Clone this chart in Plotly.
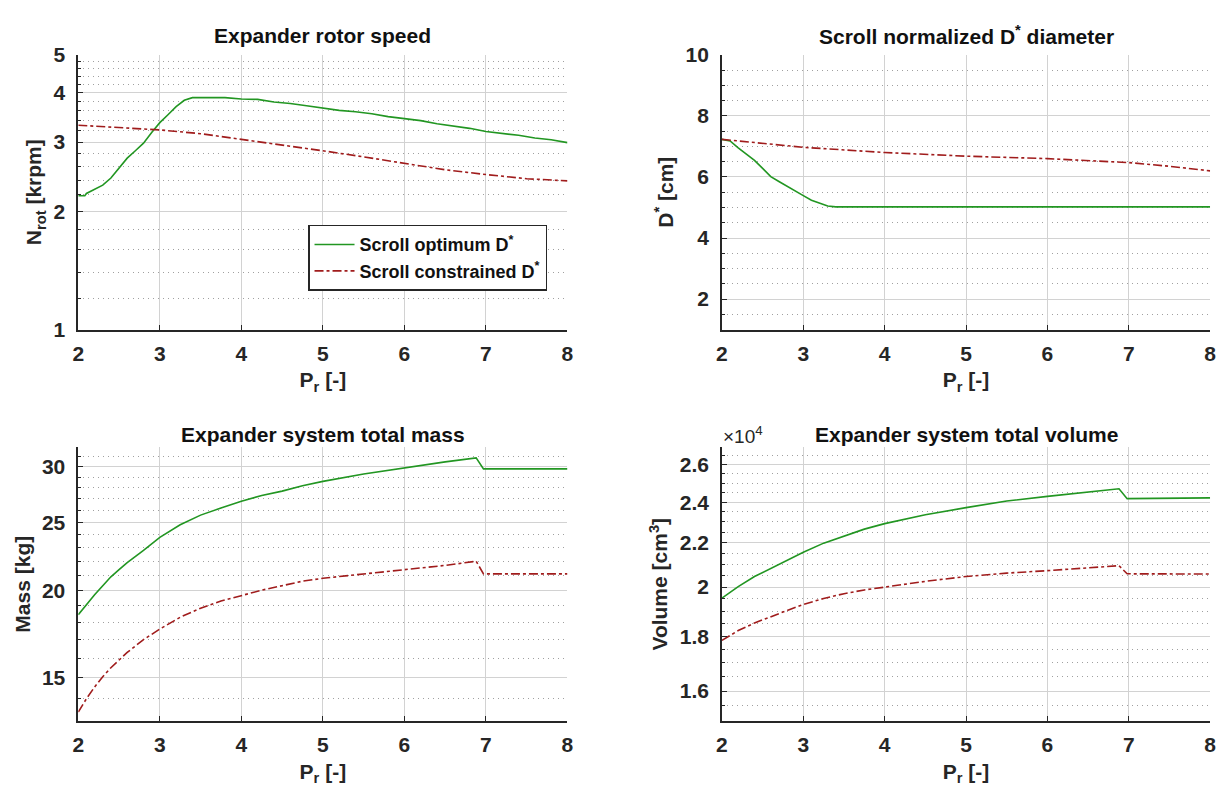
import plotly.graph_objects as go
import numpy as np

# ---------------- data ----------------
# Top-left: Expander rotor speed [krpm]
n_opt_x = [2.0, 2.08, 2.1, 2.2, 2.3, 2.4, 2.5, 2.6, 2.7, 2.8, 2.9, 3.0, 3.1, 3.2, 3.3, 3.4, 3.6, 3.8,
           4.0, 4.2, 4.4, 4.6, 4.8, 5.0, 5.2, 5.4, 5.6, 5.8, 6.0, 6.2, 6.4, 6.6, 6.8, 7.0, 7.2, 7.4,
           7.6, 7.8, 8.0]
n_opt_y = [2.19, 2.19, 2.22, 2.28, 2.33, 2.43, 2.58, 2.73, 2.85, 2.98, 3.17, 3.36, 3.52, 3.69, 3.83,
           3.89, 3.89, 3.89, 3.86, 3.85, 3.79, 3.76, 3.71, 3.66, 3.61, 3.58, 3.54, 3.48, 3.44, 3.40,
           3.34, 3.30, 3.25, 3.19, 3.16, 3.12, 3.07, 3.04, 2.99]
n_con_x = [2.0, 2.5, 3.0, 3.5, 4.0, 4.5, 5.0, 5.5, 6.0, 6.5, 7.0, 7.5, 8.0]
n_con_y = [3.31, 3.27, 3.22, 3.15, 3.05, 2.95, 2.85, 2.75, 2.65, 2.55, 2.48, 2.42, 2.39]

# Top-right: Scroll normalized D* diameter [cm]
d_opt_x = [2.0, 2.1, 2.2, 2.3, 2.4, 2.5, 2.6, 2.7, 2.8, 2.9, 3.0, 3.1, 3.2, 3.3, 3.4, 4.0, 5.0, 6.0, 7.0, 8.0]
d_opt_y = [7.23, 7.18, 6.95, 6.76, 6.54, 6.28, 6.01, 5.85, 5.69, 5.53, 5.39, 5.24, 5.14, 5.05, 5.02,
           5.02, 5.02, 5.02, 5.02, 5.02]
d_con_x = [2.0, 3.0, 4.0, 5.0, 6.0, 7.0, 7.5, 8.0]
d_con_y = [7.23, 6.97, 6.80, 6.68, 6.60, 6.47, 6.35, 6.20]

# Bottom-left: Expander system total mass [kg]
m_opt_x = [2.0, 2.1, 2.2, 2.3, 2.4, 2.5, 2.6, 2.8, 3.0, 3.25, 3.5, 3.75, 4.0, 4.25, 4.5, 4.75, 5.0,
           5.5, 6.0, 6.5, 6.88, 6.97, 7.5, 8.0]
m_opt_y = [18.45, 19.1, 19.7, 20.3, 20.9, 21.4, 21.9, 22.8, 23.8, 24.8, 25.6, 26.2, 26.8, 27.3, 27.7,
           28.2, 28.6, 29.3, 29.9, 30.5, 30.9, 29.8, 29.8, 29.8]
m_con_x = [2.0, 2.1, 2.2, 2.3, 2.4, 2.5, 2.6, 2.8, 3.0, 3.25, 3.5, 3.75, 4.0, 4.25, 4.5, 4.75, 5.0,
           5.5, 6.0, 6.5, 6.88, 6.97, 7.5, 8.0]
m_con_y = [13.4, 14.0, 14.55, 15.05, 15.5, 15.9, 16.3, 17.0, 17.6, 18.3, 18.85, 19.3, 19.65, 20.0,
           20.3, 20.6, 20.8, 21.1, 21.4, 21.7, 22.0, 21.1, 21.1, 21.1]

# Bottom-right: Expander system total volume [cm^3]
v_x = [2.0, 2.1, 2.2, 2.4, 2.6, 2.8, 3.0, 3.25, 3.5, 3.75, 4.0, 4.5, 5.0, 5.5, 6.0, 6.5, 6.88, 6.98,
       7.5, 8.0]
v_opt_y = [19530, 19790, 20020, 20460, 20820, 21180, 21550, 21980, 22330, 22650, 22920, 23360, 23720,
           24060, 24300, 24530, 24700, 24180, 24210, 24220]
v_con_y = [17840, 18040, 18220, 18520, 18780, 19020, 19270, 19520, 19720, 19880, 20000, 20250, 20460,
           20610, 20720, 20850, 20940, 20580, 20570, 20570]

# tick labels
x_ticks = [2, 3, 4, 5, 6, 7, 8]
n_ticks = [1, 2, 3, 4, 5]
n_minor = [1.2, 1.4, 1.6, 1.8, 2.2, 2.4, 2.6, 2.8, 3.2, 3.4, 3.6, 3.8, 4.2, 4.4, 4.6, 4.8]
d_ticks = [2, 4, 6, 8, 10]
m_ticks = [15, 20, 25, 30]
m_minor = [13, 14, 16, 17, 18, 19, 21, 22, 23, 24, 26, 27, 28, 29, 31, 32]
v_ticks = [16000, 18000, 20000, 22000, 24000, 26000]
v_ticktext = ["1.6", "1.8", "2", "2.2", "2.4", "2.6"]
v_minor = [15000, 15500, 16500, 17000, 17500, 18500, 19000, 19500, 20500, 21000, 21500, 22500,
           23000, 23500, 24500, 25000, 25500, 26500, 27000]

# ---------------- style ----------------
GREEN = "rgb(34,150,34)"
RED = "rgb(160,28,28)"
AX = "#262626"
FONT = "Liberation Sans, Arial, sans-serif"
MINOR_GRID = "#a0a0a0"
MAJOR_GRID = "#d2d2d2"

fig = go.Figure()

def add_pair(xo, yo, xc, yc, xa, ya, legend):
    fig.add_trace(go.Scatter(x=xo, y=yo, mode="lines", line=dict(color=GREEN, width=1.6),
                             name="Scroll optimum D<sup>*</sup>", showlegend=legend,
                             xaxis=xa, yaxis=ya))
    fig.add_trace(go.Scatter(x=xc, y=yc, mode="lines", line=dict(color=RED, width=1.6, dash="dashdot"),
                             name="Scroll constrained D<sup>*</sup>", showlegend=legend,
                             xaxis=xa, yaxis=ya))

add_pair(n_opt_x, n_opt_y, n_con_x, n_con_y, "x", "y", True)
add_pair(d_opt_x, d_opt_y, d_con_x, d_con_y, "x2", "y2", False)
add_pair(m_opt_x, m_opt_y, m_con_x, m_con_y, "x3", "y3", False)
add_pair(v_x, v_opt_y, v_x, v_con_y, "x4", "y4", False)

W, H = 1230, 808
L_dom = [73 / W, 567 / W]
R_dom = [723 / W, 1216 / W]
T_dom = [1 - 327 / H, 1 - 44 / H]
B_dom = [1 - 730 / H, 1 - 448 / H]

tickfont = dict(family=FONT, size=21, color=AX, weight="bold")
titlefont = dict(family=FONT, size=21, color=AX, weight="bold")

def xaxis(dom, anchor):
    return dict(domain=dom, anchor=anchor, range=[2, 8], tickvals=x_ticks,
                showline=True, linecolor=AX, linewidth=1.6, mirror=False,
                ticks="inside", ticklen=5, tickcolor=AX, tickwidth=1,
                showgrid=True, gridcolor=MAJOR_GRID, gridwidth=1,
                zeroline=False, tickfont=tickfont, ticklabelstandoff=4,
                title=dict(text="P<sub>r</sub> [-]", font=titlefont, standoff=9))

def yaxis(dom, anchor, title, **kw):
    d = dict(domain=dom, anchor=anchor, showline=True, linecolor=AX, linewidth=1.6, mirror=False,
             ticks="inside", ticklen=5, tickcolor=AX, tickwidth=1,
             showgrid=True, gridcolor=MAJOR_GRID, gridwidth=1, zeroline=False,
             tickfont=tickfont, ticklabelstandoff=7,
             title=dict(text=title, font=titlefont, standoff=6))
    d.update(kw)
    return d

def minor_arr(vals):
    return dict(tickmode="array", tickvals=vals, ticks="inside", ticklen=3, tickcolor=AX,
                showgrid=True, gridcolor=MINOR_GRID, griddash="1px,4px", gridwidth=1)

fig.update_layout(
    width=W, height=H, margin=dict(l=0, r=0, t=0, b=0),
    paper_bgcolor="white", plot_bgcolor="white",
    font=dict(family=FONT, color=AX),
    xaxis=xaxis(L_dom, "y"),
    yaxis=yaxis(T_dom, "x", "N<sub>rot</sub> [krpm]", type="log",
                range=[0, np.log10(5)], tickvals=n_ticks, minor=minor_arr(n_minor)),
    xaxis2=xaxis(R_dom, "y2"),
    yaxis2=yaxis(T_dom, "x2", "D<sup>*</sup> [cm]", range=[1, 10], tickvals=d_ticks,
                 minor=dict(dtick=0.5, tick0=0, ticks="inside", ticklen=3, tickcolor=AX,
                            showgrid=True, gridcolor=MINOR_GRID, griddash="1px,4px", gridwidth=1)),
    xaxis3=xaxis(L_dom, "y3"),
    yaxis3=yaxis(B_dom, "x3", "Mass [kg]", type="log",
                 range=[np.log10(13), np.log10(32)], tickvals=m_ticks, minor=minor_arr(m_minor)),
    xaxis4=xaxis(R_dom, "y4"),
    yaxis4=yaxis(B_dom, "x4", "Volume [cm<sup>3</sup>]", type="log",
                 range=[np.log10(15000), np.log10(27000)], tickvals=v_ticks, ticktext=v_ticktext,
                 minor=minor_arr(v_minor)),
    legend=dict(x=305 / W, y=1 - 219 / H, xanchor="left", yanchor="top",
                bgcolor="white", bordercolor=AX, borderwidth=1.5,
                font=dict(family=FONT, size=18, color="#111", weight="bold"),
                itemwidth=40, tracegroupgap=2),
    showlegend=True,
)

titles = [
    ("Expander rotor speed", sum(L_dom) / 2, 1 - 24 / H),
    ("Scroll normalized D<sup>*</sup> diameter", sum(R_dom) / 2, 1 - 24 / H),
    ("Expander system total mass", sum(L_dom) / 2, 1 - 435 / H),
    ("Expander system total volume", sum(R_dom) / 2, 1 - 435 / H),
]
for txt, x, y in titles:
    fig.add_annotation(text=txt, x=x, y=y, xref="paper", yref="paper", showarrow=False,
                       xanchor="center", yanchor="middle",
                       font=dict(family=FONT, size=21, color="#111", weight="bold"))

fig.add_annotation(text="\u00d710<sup>4</sup>", x=722 / W, y=1 - 435 / H, xref="paper", yref="paper",
                   showarrow=False, xanchor="left", yanchor="middle",
                   font=dict(family=FONT, size=19, color=AX))

fig.write_html("out.html")
